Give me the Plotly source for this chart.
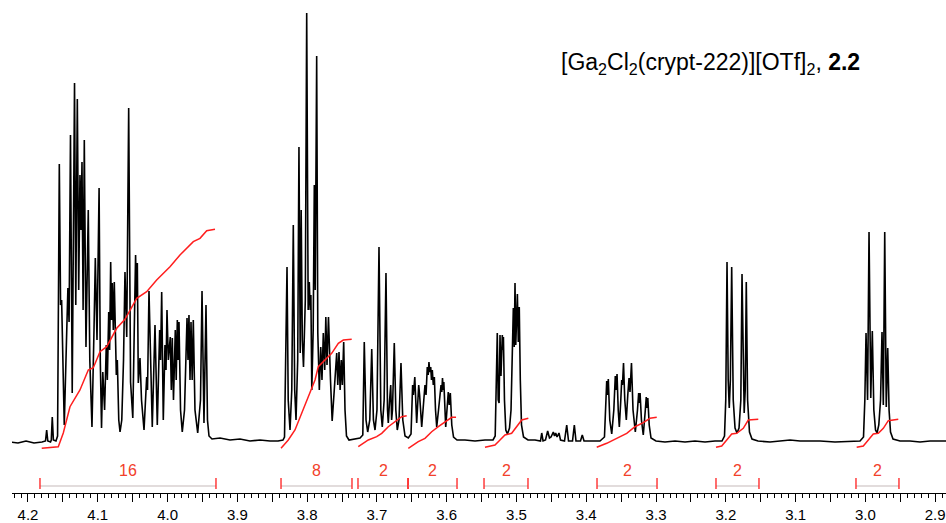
import plotly.graph_objects as go

# ---------------- spectrum data (ppm, intensity) ----------------
trace_410 = [
    (4.2258, 0), (4.2143, -1), (4.2028, 1), (4.1914, -1), (4.1799, 0),
    (4.1749, 1), (4.1732, 12), (4.1716, 1), (4.1677, 0), (4.1666, 2), (4.1652, 25),
    (4.1636, 2), (4.1599, 1), (4.1576, 6), (4.1551, 278), (4.1533, 137), (4.1518, 142),
    (4.1504, 86), (4.1480, 17), (4.1448, 102), (4.1428, 154), (4.1411, 120), (4.1391, 307),
    (4.1366, 49), (4.1333, 359), (4.1315, 137), (4.1293, 343), (4.1273, 152), (4.1255, 267),
    (4.1240, 212), (4.1226, 280), (4.1210, 132), (4.1193, 302), (4.1169, 95), (4.1136, 232),
    (4.1114, 82), (4.1083, 15), (4.1054, 112), (4.1035, 184), (4.1011, 102), (4.0981, 254),
    (4.0964, 82), (4.0946, 14), (4.0928, 70), (4.0902, 32), (4.0878, 97), (4.0863, 62),
    (4.0843, 130), (4.0830, 92), (4.0815, 180), (4.0803, 122), (4.0792, 159), (4.0777, 112),
    (4.0763, 160), (4.0749, 102), (4.0734, 67), (4.0720, 82), (4.0699, 22), (4.0681, 10),
    (4.0656, 22), (4.0631, 82), (4.0610, 170), (4.0585, 105), (4.0557, 334), (4.0530, 60),
    (4.0498, 24), (4.0477, 112), (4.0458, 187), (4.0446, 142), (4.0433, 179), (4.0419, 59),
    (4.0395, 84), (4.0373, 42), (4.0337, 12), (4.0299, 65), (4.0287, 52), (4.0266, 151),
    (4.0252, 102), (4.0240, 75), (4.0219, 15), (4.0180, 117), (4.0147, 17), (4.0113, 112),
    (4.0100, 82), (4.0084, 150), (4.0061, 22), (4.0037, 97), (4.0022, 72), (4.0008, 132),
    (3.9989, 82), (3.9961, 105), (3.9946, 52), (3.9932, 104), (3.9915, 42), (3.9889, 112),
    (3.9876, 62), (3.9860, 122), (3.9849, 82), (3.9836, 120), (3.9814, 32), (3.9789, 10),
    (3.9757, 32), (3.9721, 124), (3.9707, 82), (3.9693, 127), (3.9678, 62), (3.9664, 120),
    (3.9647, 62), (3.9631, 122), (3.9607, 32), (3.9568, 9), (3.9528, 42), (3.9506, 151),
    (3.9478, 19), (3.9449, 137), (3.9428, 22), (3.9406, 6), (3.9363, 3), (3.9248, 4),
    (3.9105, 2), (3.8962, 3), (3.8819, 1), (3.8675, 2), (3.8532, 1), (3.8417, 1), (3.8346, 2),
]

trace_380 = [
    (3.8324, 5), (3.8288, 175), (3.8271, 42), (3.8245, 12), (3.8220, 52), (3.8198, 217),
    (3.8178, 52), (3.8159, 22), (3.8135, 82), (3.8117, 295), (3.8099, 89), (3.8085, 232),
    (3.8069, 102), (3.8052, 75), (3.8026, 142), (3.8006, 429), (3.7985, 132), (3.7969, 160),
    (3.7956, 132), (3.7946, 147), (3.7933, 52), (3.7913, 112), (3.7897, 257), (3.7884, 152),
    (3.7863, 386), (3.7847, 109), (3.7825, 52), (3.7805, 95), (3.7787, 62), (3.7768, 109),
    (3.7748, 72), (3.7732, 125), (3.7715, 77), (3.7694, 125), (3.7665, 62), (3.7641, 21),
    (3.7611, 52), (3.7576, 89), (3.7561, 57), (3.7543, 90), (3.7527, 52), (3.7510, 82),
    (3.7495, 57), (3.7476, 100), (3.7457, 32), (3.7436, 6), (3.7400, 2), (3.7328, 3),
    (3.7242, 4), (3.7202, 7),
]

trace_370 = [
    (3.7181, 100), (3.7156, 22), (3.7132, 10), (3.7102, 22), (3.7074, 93), (3.7050, 22),
    (3.7027, 12), (3.6999, 32), (3.6970, 195), (3.6944, 32), (3.6923, 15), (3.6896, 42),
    (3.6870, 169), (3.6848, 32), (3.6837, 19), (3.6818, 42), (3.6802, 57), (3.6789, 22),
    (3.6777, 32), (3.6751, 99), (3.6729, 32), (3.6708, 12), (3.6683, 22), (3.6655, 79),
    (3.6629, 22), (3.6597, 6), (3.6550, 4), (3.6511, 8),
]

trace_362 = [
    (3.6488, 57), (3.6477, 47), (3.6457, 65), (3.6430, 19), (3.6401, 57), (3.6388, 47),
    (3.6358, 15), (3.6328, 42), (3.6311, 57), (3.6296, 47), (3.6278, 75), (3.6265, 67),
    (3.6254, 80), (3.6242, 70), (3.6229, 75), (3.6218, 62), (3.6206, 72), (3.6192, 57),
    (3.6177, 65), (3.6160, 32), (3.6143, 15), (3.6117, 32), (3.6081, 57), (3.6070, 50),
    (3.6060, 64), (3.6050, 52), (3.6041, 60), (3.6014, 15), (3.5991, 42), (3.5977, 50),
    (3.5963, 37), (3.5948, 49), (3.5927, 17), (3.5902, 5), (3.5852, 2), (3.5738, 2),
    (3.5594, 1), (3.5451, 2), (3.5336, 2), (3.5305, 6),
]

trace_351 = [
    (3.5275, 109), (3.5262, 42), (3.5249, 39), (3.5236, 107), (3.5222, 66), (3.5203, 107),
    (3.5196, 92), (3.5187, 105), (3.5172, 42), (3.5153, 12), (3.5129, 8), (3.5100, 14),
    (3.5078, 32), (3.5045, 134), (3.5032, 95), (3.5021, 159), (3.5010, 97), (3.4998, 142),
    (3.4987, 148), (3.4974, 100), (3.4960, 135), (3.4945, 62), (3.4928, 17), (3.4899, 5),
    (3.4835, 2), (3.4735, 2),
]

trace_impurity = [
    (3.4656, 1), (3.4638, 9), (3.4619, 1), (3.4584, 2), (3.4553, 11), (3.4527, 4),
    (3.4505, 5), (3.4472, 10), (3.4455, 6), (3.4438, 9), (3.4419, 5), (3.4391, 9),
    (3.4369, 2), (3.4312, 1), (3.4280, 17), (3.4254, 1), (3.4197, 1), (3.4171, 17),
    (3.4147, 1), (3.4083, 1), (3.4057, 7), (3.4032, 1), (3.3918, 1), (3.3803, 1),
    (3.3739, 5),
]

trace_334 = [
    (3.3724, 42), (3.3707, 61), (3.3695, 47), (3.3684, 63), (3.3663, 22), (3.3635, 8),
    (3.3605, 32), (3.3584, 66), (3.3571, 52), (3.3559, 68), (3.3542, 32), (3.3526, 15),
    (3.3505, 42), (3.3492, 62), (3.3481, 57), (3.3466, 79), (3.3448, 42), (3.3426, 22),
    (3.3405, 47), (3.3387, 64), (3.3373, 50), (3.3352, 79), (3.3330, 32), (3.3297, 10),
    (3.3266, 32), (3.3249, 49), (3.3240, 39), (3.3229, 49), (3.3209, 22), (3.3183, 7),
    (3.3156, 30), (3.3140, 45), (3.3130, 34), (3.3118, 44), (3.3098, 17), (3.3072, 4),
    (3.3001, 1), (3.2872, 0), (3.2728, 1), (3.2585, 0), (3.2442, 1), (3.2298, 0),
    (3.2155, 1), (3.2055, 1), (3.2019, 6),
]

trace_318 = [
    (3.2001, 42), (3.1983, 180), (3.1966, 62), (3.1951, 34), (3.1935, 62), (3.1916, 175),
    (3.1894, 42), (3.1868, 14), (3.1840, 9), (3.1811, 14), (3.1785, 42), (3.1768, 168),
    (3.1751, 52), (3.1737, 29), (3.1722, 52), (3.1707, 160), (3.1688, 42), (3.1661, 10),
    (3.1625, 3), (3.1539, 1), (3.1367, 0), (3.1152, 1), (3.1080, 2), (3.0937, 1),
    (3.0650, 1), (3.0436, 0), (3.0220, 1), (3.0077, 1), (3.0027, 5),
]

trace_298 = [
    (3.0008, 42), (2.9991, 109), (2.9969, 42), (2.9948, 210), (2.9923, 44), (2.9901, 111),
    (2.9879, 32), (2.9855, 12), (2.9833, 9), (2.9808, 17), (2.9783, 42), (2.9762, 110),
    (2.9743, 37), (2.9723, 210), (2.9701, 35), (2.9680, 94), (2.9661, 32), (2.9640, 10),
    (2.9604, 3), (2.9504, 1), (2.9361, 1), (2.9217, 0), (2.9074, 1), (2.8845, 1),
]

# ---------------- integral curves (ppm, integral trace height) ----------------
integral_410 = [
    (4.1803, -6.3), (4.1566, -4.7), (4.1494, 9), (4.1398, 35.3), (4.1255, 52), (4.1136, 72),
    (4.1064, 74.3), (4.0968, 90.3), (4.0872, 95.3), (4.0729, 113.7), (4.0610, 122.7),
    (4.0514, 135.3), (4.0442, 143.7), (4.0299, 150.3), (4.0156, 162), (3.9965, 175.3),
    (3.9822, 187), (3.9631, 200.3), (3.9535, 203.7), (3.9439, 211.3), (3.9320, 212.7),
]
integral_380 = [
    (3.8374, -6.3), (3.8270, 2), (3.8174, 12), (3.8078, 28.7), (3.7983, 45.3), (3.7887, 62),
    (3.7840, 75.3), (3.7744, 82), (3.7648, 88.7), (3.7553, 98.7), (3.7481, 102), (3.7361, 102.7),
]
integral_370 = [
    (3.7267, -4.7), (3.7123, 2), (3.7003, 5.3), (3.6931, 8.7), (3.6837, 15.3), (3.6741, 20.3),
    (3.6645, 25.3), (3.6573, 26.3),
]
integral_362 = [
    (3.6550, -6.3), (3.6407, 0.3), (3.6311, 3.7), (3.6215, 10.3), (3.6120, 15.3), (3.6024, 20.3),
    (3.5928, 24.7), (3.5866, 24.7),
]
integral_351 = [
    (3.5451, -5.3), (3.5308, -3), (3.5236, 2), (3.5165, 7), (3.5069, 8.7), (3.4997, 15.3),
    (3.4925, 22), (3.4830, 23.7),
]
integral_334 = [
    (3.3850, -5.3), (3.3707, -1.3), (3.3564, 3.7), (3.3420, 8.7), (3.3302, 15.3), (3.3183, 19.3),
    (3.3087, 23.7), (3.2990, 24.7),
]
integral_318 = [
    (3.2141, -5.3), (3.2059, -4), (3.1987, 2), (3.1916, 8), (3.1844, 8.7), (3.1750, 13.7),
    (3.1678, 22), (3.1535, 22.7),
]
integral_298 = [
    (3.0125, -5.3), (3.0030, -4), (2.9958, 2), (2.9887, 8), (2.9815, 8.7), (2.9743, 13.7),
    (2.9672, 21.3), (2.9529, 22.7),
]

# ---------------- integration regions ----------------
int_start = [4.1828, 3.8374, 3.7271, 3.6554, 3.5465, 3.3846, 3.2141, 3.0135]
int_end = [3.9306, 3.7357, 3.6554, 3.5852, 3.4835, 3.2986, 3.1525, 2.9519]
int_value = ["16", "8", "2", "2", "2", "2", "2", "2"]

# ---------------- axis ticks ----------------
label_tick_vals = [4.2, 4.1, 4.0, 3.9, 3.8, 3.7, 3.6, 3.5, 3.4, 3.3, 3.2, 3.1, 3.0, 2.9]
label_tick_text = ["4.2", "4.1", "4.0", "3.9", "3.8", "3.7", "3.6", "3.5", "3.4",
                   "3.3", "3.2", "3.1", "3.0", "2.9"]
half_tick_vals = [4.15, 4.05, 3.95, 3.85, 3.75, 3.65, 3.55, 3.45, 3.35, 3.25, 3.15, 3.05, 2.95]

title_text = "[Ga<sub>2</sub>Cl<sub>2</sub>(crypt-222)][OTf]<sub>2</sub>, <b>2.2</b>"

# ---------------- figure ----------------
FONT = "Arial, 'Liberation Sans', sans-serif"
RED = "#ff1e1e"
LABEL_RED = "#f2402a"
BRACKET_Y = -44
BRACKET_TICK = (-36, -47)
LABEL_Y = -28
X_RANGE = [4.2229, 2.8845]

spectrum = (trace_410 + trace_380 + trace_370 + trace_362 + trace_351 + trace_impurity
            + trace_334 + trace_318 + trace_298)

fig = go.Figure()
fig.add_trace(go.Scatter(
    x=[p for p, _ in spectrum], y=[v for _, v in spectrum], mode="lines",
    line=dict(color="black", width=1.6), hoverinfo="skip", showlegend=False))

for curve in [integral_410, integral_380, integral_370, integral_362,
              integral_351, integral_334, integral_318, integral_298]:
    fig.add_trace(go.Scatter(
        x=[p for p, _ in curve], y=[v for _, v in curve], mode="lines",
        line=dict(color=RED, width=1.5), hoverinfo="skip", showlegend=False))

for s, e, val in zip(int_start, int_end, int_value):
    fig.add_trace(go.Scatter(x=[s, e], y=[BRACKET_Y, BRACKET_Y], mode="lines",
                             line=dict(color="#d8d0d0", width=1.3),
                             hoverinfo="skip", showlegend=False))
    for edge in (s, e):
        fig.add_trace(go.Scatter(x=[edge, edge], y=list(BRACKET_TICK), mode="lines",
                                 line=dict(color=RED, width=1.3),
                                 hoverinfo="skip", showlegend=False))
    fig.add_annotation(x=(s + e) / 2, y=LABEL_Y, text=val, showarrow=False,
                       font=dict(family=FONT, size=16, color=LABEL_RED),
                       xanchor="center", yanchor="middle")

# invisible trace to carry the secondary tick axis (0.05 ppm ticks)
fig.add_trace(go.Scatter(x=X_RANGE, y=[0, 0], xaxis="x2", mode="lines",
                         line=dict(width=0), hoverinfo="skip", showlegend=False))

fig.add_annotation(x=0.91, y=0.872, xref="paper", yref="paper", text=title_text,
                   showarrow=False, xanchor="right", yanchor="middle",
                   font=dict(family=FONT, size=23, color="black"))

fig.update_layout(
    width=946, height=523,
    margin=dict(l=12, r=0, t=0, b=30),
    paper_bgcolor="white", plot_bgcolor="white",
    xaxis=dict(
        range=X_RANGE, showgrid=False, zeroline=False,
        showline=True, linecolor="black", linewidth=1,
        tickmode="array", tickvals=label_tick_vals, ticktext=label_tick_text,
        ticks="outside", ticklen=8, tickcolor="black", tickwidth=1,
        tickfont=dict(family=FONT, size=15, color="black"),
        minor=dict(tickmode="linear", tick0=0, dtick=0.01, ticks="outside",
                   ticklen=4, tickcolor="black", tickwidth=1, showgrid=False),
    ),
    xaxis2=dict(
        range=X_RANGE, overlaying="x", anchor="y", side="bottom",
        showgrid=False, zeroline=False, showline=False,
        tickmode="array", tickvals=half_tick_vals, ticks="outside", ticklen=8,
        tickcolor="black", tickwidth=1, showticklabels=False,
    ),
    yaxis=dict(range=[-51, 442], visible=False, showgrid=False, zeroline=False),
    showlegend=False,
)

fig.write_html(
    "out.html",
    config={"displayModeBar": False, "staticPlot": True},
    post_script="document.body.style.margin='0';document.body.style.overflow='hidden';",
)
